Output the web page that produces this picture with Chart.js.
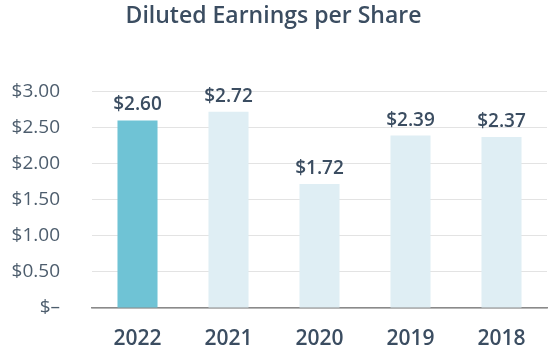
<!DOCTYPE html>
<html>
<head>
<meta charset="utf-8">
<script src="https://cdn.jsdelivr.net/npm/chart.js@4/dist/chart.umd.min.js"></script>
<style>
html,body{margin:0;padding:0;background:#fff;}
#wrap{width:560px;height:360px;position:relative;}
</style>
</head>
<body>
<div id="wrap"><canvas id="c" width="560" height="360"></canvas></div>
<script>
const categories = ['2022', '2021', '2020', '2019', '2018'];
const eps = [2.60, 2.72, 1.72, 2.39, 2.37];
const yTicks = [0, 0.5, 1.0, 1.5, 2.0, 2.5, 3.0];
const titleText = 'Diluted Earnings per Share';

const barColors = categories.map((c, i) => i === 0 ? '#6fc3d5' : '#dfeef4');
const textColor = '#3b4d61';
const fontFamily = '"Open Sans", Lato, sans-serif';

const valueLabels = {
  id: 'valueLabels',
  afterDatasetsDraw(chart) {
    const ctx = chart.ctx;
    const meta = chart.getDatasetMeta(0);
    ctx.save();
    ctx.font = '600 19px ' + fontFamily;
    ctx.fillStyle = textColor;
    ctx.textAlign = 'center';
    ctx.textBaseline = 'alphabetic';
    meta.data.forEach((bar, i) => {
      ctx.fillText('$' + eps[i].toFixed(2), bar.x, bar.y - 10);
    });
    ctx.restore();
  }
};

new Chart(document.getElementById('c'), {
  type: 'bar',
  data: {
    labels: categories,
    datasets: [{
      data: eps,
      backgroundColor: barColors,
      borderWidth: 0,
      barPercentage: 0.44,
      categoryPercentage: 1.0
    }]
  },
  options: {
    responsive: false,
    animation: false,
    layout: { padding: { left: 0, right: 13, top: 0, bottom: 0 } },
    plugins: {
      legend: { display: false },
      tooltip: { enabled: false },
      title: {
        display: true,
        text: titleText,
        color: textColor,
        font: { family: fontFamily, size: 23, weight: '600' },
        padding: { top: 3, bottom: 61 }
      }
    },
    scales: {
      x: {
        grid: { display: false, drawTicks: false },
        border: { display: true, color: '#8a8a8a', width: 1.5 },
        ticks: {
          color: textColor,
          font: { family: fontFamily, size: 21, weight: '600' },
          padding: 18
        },
        afterFit(s) { s.height = 52; }
      },
      y: {
        min: 0,
        max: 3,
        afterBuildTicks(s) { s.ticks = yTicks.map(v => ({ value: v })); },
        grid: { color: '#e3e3e3', lineWidth: 1, drawTicks: false },
        border: { display: false },
        ticks: {
          color: '#4d5d6d',
          font: { family: fontFamily, size: 19 },
          padding: 32,
          callback(v) { return v === 0 ? '$\u2013' : '$' + Number(v).toFixed(2); }
        },
        afterFit(s) { s.width = 92; }
      }
    }
  },
  plugins: [valueLabels]
});
</script>
</body>
</html>
